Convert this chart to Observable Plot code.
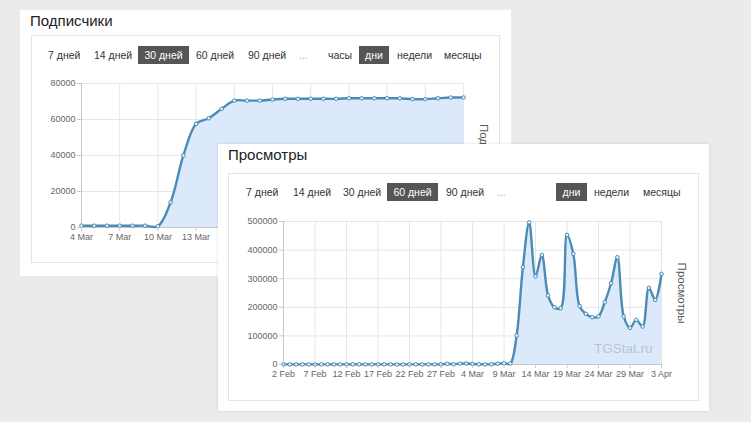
<!DOCTYPE html>
<html>
<head>
<meta charset="utf-8">
<script src="https://cdn.jsdelivr.net/npm/d3@7"></script>
<script src="https://cdn.jsdelivr.net/npm/@observablehq/plot@0.6"></script>
<style>
  html, body { margin: 0; padding: 0; }
  body { width: 751px; height: 422px; background: #ebebeb; position: relative; overflow: hidden;
         font-family: "Liberation Sans", Arial, sans-serif; }
  .card { position: absolute; background: #fff; }
  .inner { position: absolute; border: 1px solid #e4e4e4; }
  .title { position: absolute; font-size: 15px; color: #222; line-height: 18px; }
  .btn { position: absolute; font-size: 10.5px; color: #333; line-height: 18px; white-space: nowrap; }
  .btn.on { background: #555; color: #fff; text-align: center; }
  .btn.dim { color: #aaa; }
  svg.chart { position: absolute; overflow: visible; }
</style>
</head>
<body>
<div class="card" id="card1" style="left:20px;top:10px;width:491px;height:266px;z-index:1"></div>
<div class="card" id="card2" style="left:218px;top:144px;width:491px;height:267px;z-index:2;box-shadow:0 0 3px rgba(0,0,0,0.12)"></div>
<script>
// ---- data ----
const subsStart = "2022-03-04";
const subsValues = [1000,1000,1000,1000,1000,1000,700,14000,40000,57600,60700,65900,
  70500,70500,70500,71100,71500,71500,71500,71500,71500,71800,71800,71800,71800,71800,
  71300,71300,71800,72200,72200];
const subsYTicks = [0,20000,40000,60000,80000];
const subsXTickStep = 3;

const viewsStart = "2022-02-02";
const viewsValues = [500,500,500,500,500,500,500,500,500,500,500,500,500,500,500,500,500,500,500,500,500,500,500,500,500,500,
  2500,1000,3000,3500,2000,800,500,800,3000,4000,3500,
  101000,340000,497000,308000,383000,241000,200000,197000,453000,387000,204000,177000,165000,168000,
  218000,284000,375000,168000,128000,156000,133000,268000,226000,317000];
const viewsYTicks = [0,100000,200000,300000,400000,500000];
const viewsXTickStep = 5;

const buttons1 = [["7 дней",28],["14 дней",74],["30 дней",118,51,true],["60 дней",176],["90 дней",228],["...",279,0,false,true],
  ["часы",308],["дни",339,30,true],["недели",377],["месяцы",424]];
const buttons2 = [["7 дней",28],["14 дней",75],["30 дней",125],["60 дней",169,51,true],["90 дней",228],["...",279,0,false,true],
  ["дни",338,31,true],["недели",376],["месяцы",425]];

const lineColor = "#4a8cb6";
const fillColor = "#dce9fa";
const gridColor = "#e6e6e6";

function rows(start, values) {
  const s = new Date(start);
  return values.map((v, i) => ({date: d3.utcDay.offset(s, i), value: v}));
}

function card(el, title, buttons, inner) {
  const t = document.createElement("div");
  t.className = "title"; t.textContent = title;
  t.style.left = "10px"; t.style.top = "2px";
  el.appendChild(t);
  const b = document.createElement("div");
  b.className = "inner";
  Object.assign(b.style, inner);
  el.appendChild(b);
  for (const [label, x, w, on, dim] of buttons) {
    const d = document.createElement("div");
    d.className = "btn" + (on ? " on" : "") + (dim ? " dim" : "");
    d.textContent = label;
    d.style.left = x + "px";
    d.style.top = (inner.btnTop) + "px";
    if (w) d.style.width = w + "px";
    el.appendChild(d);
  }
}

function chart({data, yTicks, yMax, step, label, width, height, margins, watermark}) {
  const s = data[0].date;
  const xTicks = d3.range(0, data.length, step).map(i => d3.utcDay.offset(s, i));
  const marks = [
    Plot.gridY(yTicks, {stroke: gridColor, strokeOpacity: 1}),
    Plot.gridX(xTicks, {stroke: gridColor, strokeOpacity: 1}),
    Plot.ruleX([data[data.length - 1].date], {stroke: gridColor}),
    Plot.areaY(data, {x: "date", y: "value", fill: fillColor, curve: "catmull-rom", clip: true}),
    Plot.ruleX([s], {stroke: "#c8c8c8"}),
    Plot.ruleY([0], {stroke: "#c8c8c8"}),
    Plot.line(data, {x: "date", y: "value", stroke: lineColor, strokeWidth: 2.4, curve: "catmull-rom"}),
    Plot.dot(data, {x: "date", y: "value", r: 1.8, fill: "#e8f1fb", stroke: lineColor, strokeWidth: 1}),
    Plot.axisY(yTicks, {tickSize: 4, tickPadding: 2, tickFormat: d => String(d), stroke: "#c8c8c8", fill: "#666", label: null}),
    Plot.axisX(xTicks, {tickSize: 4, tickPadding: 2, tickFormat: d3.utcFormat("%-d %b"), stroke: "#c8c8c8", fill: "#666", label: null}),
    Plot.text([label], {frameAnchor: "right", dx: 20, rotate: 90, textAnchor: "middle", fill: "#555", fontSize: 11.5, text: d => d})
  ];
  if (watermark) marks.push(Plot.text([watermark], {frameAnchor: "bottom-right", dx: -9, dy: -12, text: d => d,
    fill: "#b9c4cf", fontSize: 13.5, textAnchor: "end"}));
  return Plot.plot({
    width, height, ...margins,
    x: {type: "utc", domain: [s, data[data.length - 1].date]},
    y: {domain: [0, yMax]},
    style: {background: "transparent", fontFamily: "'Liberation Sans', Arial, sans-serif", fontSize: "9px", overflow: "visible"},
    marks
  });
}

const c1 = document.getElementById("card1");
const c2 = document.getElementById("card2");
card(c1, "Подписчики", buttons1, {left: "11px", top: "25px", width: "467px", height: "226px", btnTop: 36});
card(c2, "Просмотры", buttons2, {left: "10px", top: "29px", width: "469px", height: "226px", btnTop: 39});

const svg1 = chart({data: rows(subsStart, subsValues), yTicks: subsYTicks, yMax: 80000, step: subsXTickStep,
  label: "Подписчики", width: 468, height: 180,
  margins: {marginLeft: 50, marginRight: 36, marginTop: 13, marginBottom: 23}});
svg1.classList.add("chart");
svg1.style.left = "11px"; svg1.style.top = "60px";
c1.appendChild(svg1);

const svg2 = chart({data: rows(viewsStart, viewsValues), yTicks: viewsYTicks, yMax: 500000, step: viewsXTickStep,
  label: "Просмотры", width: 470, height: 175, watermark: "TGStat.ru",
  margins: {marginLeft: 55, marginRight: 37, marginTop: 13, marginBottom: 19}});
svg2.classList.add("chart");
svg2.style.left = "10px"; svg2.style.top = "64px";
c2.appendChild(svg2);
</script>
</body>
</html>
